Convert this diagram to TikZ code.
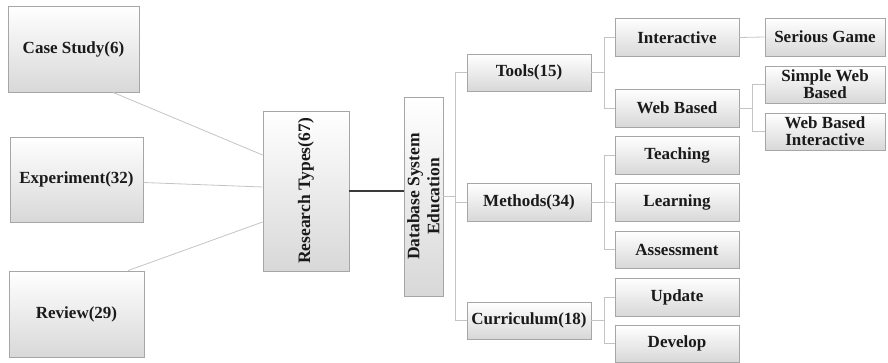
\documentclass[tikz,border=0pt]{standalone}
\usepackage{fontspec}
\setmainfont{Liberation Serif}
\usetikzlibrary{shadows, calc}
\definecolor{rtborder}{HTML}{A6A6A6}
\definecolor{rtshade}{HTML}{D8D8D8}
\definecolor{rtline}{HTML}{C4C4C4}
\definecolor{rtdark}{HTML}{3A3A3A}
\definecolor{rttext}{HTML}{1A1A1A}

\begin{document}
\begin{tikzpicture}[x=1pt, y=-1pt,
    box/.style={draw=rtborder, line width=0.8pt, top color=white, bottom color=rtshade,
      drop shadow={shadow xshift=1pt, shadow yshift=-1pt, opacity=0.3, fill=gray},
      text=rttext, align=center, inner sep=1pt,
      font=\bfseries\fontsize{17}{17}\selectfont},
    boxtext/.style={text=rttext, align=center, inner sep=0pt,
      font=\bfseries\fontsize{17.5}{20}\selectfont},
    link/.style={draw=rtline, line width=0.8pt}]
    \useasboundingbox (0,0) rectangle (888,363);
    % research types
    \node[box, minimum width=131pt, minimum height=86pt] (case) at (73.5,49) {Case Study(6)};
    \node[box, minimum width=133pt, minimum height=85pt] (exper) at (76.5,179.5) {Experiment(32)};
    \node[box, minimum width=135pt, minimum height=86pt] (review) at (76.5,314) {Review(29)};
    \node[box, minimum width=86pt, minimum height=160pt] (rtypes) at (306,191) {};
    \node[boxtext, rotate=90] (rtypeslabel) at (rtypes) {Research Types(67)};
    \node[box, minimum width=39pt, minimum height=199pt] (dse) at (423.5,196.5) {};
    \node[boxtext, rotate=90] (dselabel) at (dse) {Database System\\Education};
    % second level
    \node[box, minimum width=124pt, minimum height=37pt] (tools) at (529,72.5) {Tools(15)};
    \node[box, minimum width=124pt, minimum height=38pt] (methods) at (529,202) {Methods(34)};
    \node[box, minimum width=124pt, minimum height=37pt] (curric) at (529,320.5) {Curriculum(18)};
    % third level
    \node[box, minimum width=124pt, minimum height=38pt] (interactive) at (677,37.5) {Interactive};
    \node[box, minimum width=124pt, minimum height=38pt] (webbased) at (677,108) {Web Based};
    \node[box, minimum width=124pt, minimum height=38pt] (teaching) at (677,155) {Teaching};
    \node[box, minimum width=124pt, minimum height=38pt] (learning) at (677,202.5) {Learning};
    \node[box, minimum width=124pt, minimum height=37pt] (assessment) at (677,249.5) {Assessment};
    \node[box, minimum width=124pt, minimum height=38pt] (update) at (677,297) {Update};
    \node[box, minimum width=124pt, minimum height=37pt] (develop) at (677,343.5) {Develop};
    % fourth level
    \node[box, minimum width=120pt, minimum height=38pt] (serious) at (825,37) {Serious Game};
    \node[box, minimum width=120pt, minimum height=37pt] (simpleweb) at (825,84.5) {Simple Web\\Based};
    \node[box, minimum width=120pt, minimum height=37pt] (webinter) at (825,131.5) {Web Based\\Interactive};
    % connectors
    \draw[link] ([xshift=39.5pt]case.south) -- ([yshift=36pt]rtypes.west);
    \draw[link] ([yshift=-3pt]exper.east) -- ([yshift=4pt]rtypes.west);
    \draw[link] ([xshift=51.5pt]review.north) -- ([yshift=-31pt]rtypes.west);
    \draw[rtdark, line width=1.1pt] (rtypes.east) -- (rtypes.east -| dse.west);
    \draw[link] (dse.east) -- ++(12,0) coordinate (trunkA);
    \draw[link] (tools.west) -| (trunkA) |- (curric.west);
    \draw[link] (methods.west) -- (methods.west -| trunkA);
    \draw[link] (tools.east) -- ++(13,0) coordinate (trunkB);
    \draw[link] (interactive.west) -| (trunkB) |- (webbased.west);
    \draw[link] (methods.east) -- ++(13,0) coordinate (trunkC);
    \draw[link] (teaching.west) -| (trunkC) |- (assessment.west);
    \draw[link] (trunkC) -- (learning.west);
    \draw[link] (curric.east) -- ++(13,0) coordinate (trunkD);
    \draw[link] (update.west) -| (trunkD) |- (develop.west);
    \draw[link] (interactive.east) -- (serious.west);
    \draw[link] (webbased.east) -- ++(13,0) coordinate (trunkE);
    \draw[link] (simpleweb.west) -| (trunkE) |- (webinter.west);
\end{tikzpicture}
\end{document}
